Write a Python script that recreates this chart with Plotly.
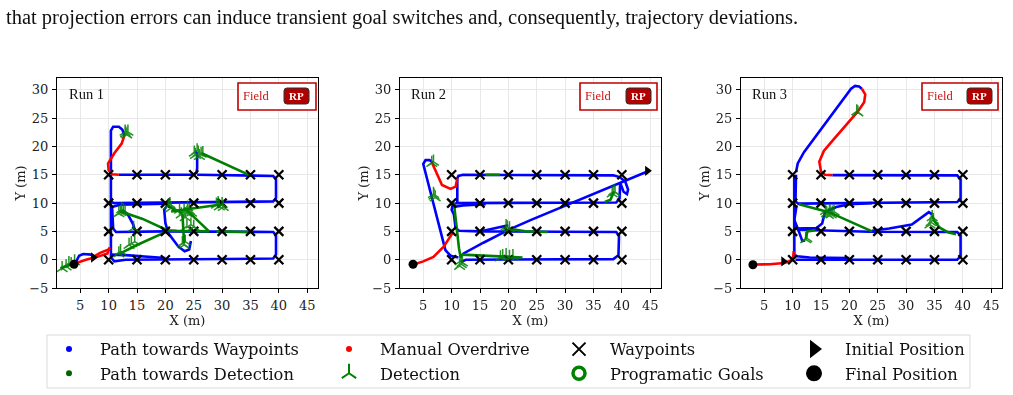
import plotly.graph_objects as go

W, H = 1013, 395

# ---------------- data ----------------
WP_X = [10, 15, 20, 25, 30, 35, 40]
WP_Y = [0, 5, 10, 15]
X_TICKS = [5, 10, 15, 20, 25, 30, 35, 40, 45]
Y_TICKS = [-5, 0, 5, 10, 15, 20, 25, 30]
RUN_LABELS = ["Run 1", "Run 2", "Run 3"]

# Run 1
R1_BLUE = [
    [(10.4, 15.5), (10.4, 22.8), (10.8, 23.5), (11.8, 23.5), (12.4, 23.0), (12.8, 22.0)],
    [(11.8, 15.0), (25.0, 15.0), (25.5, 15.4), (25.6, 16.2), (25.6, 18.8), (25.2, 19.1)],
    [(25.6, 15.0), (39.0, 14.8), (39.5, 14.2), (39.5, 10.9), (39.0, 10.3), (20.0, 10.1), (11.0, 10.0), (10.5, 10.2)],
    [(10.6, 9.3), (12.0, 9.7), (20.0, 9.9)],
    [(10.4, 15.0), (10.4, 0.5)],
    [(10.6, 9.5), (10.8, 5.5), (11.3, 4.9), (20.0, 5.0), (39.0, 4.9), (39.5, 4.3), (39.5, 0.9), (39.0, 0.2), (13.0, 0.0), (11.0, -0.3), (10.5, 0.3)],
    [(10.5, 0.9), (13.0, 0.8), (20.0, 0.3)],
    [(12.4, 8.8), (13.5, 7.8), (14.3, 6.3), (14.6, 5.3)],
    [(20.3, 9.6), (19.8, 8.8), (20.0, 6.5), (20.5, 4.7), (22.3, 2.3), (23.4, 1.5), (24.2, 1.8), (24.5, 3.3)],
    [(4.3, -0.3), (4.8, 0.7), (5.5, 1.0), (7.0, 0.9)],
]
R1_GREEN = [
    [(35.1, 14.8), (26.4, 18.8)],
    [(11.9, 8.6), (16.0, 7.2), (20.3, 5.2), (22.0, 5.1), (27.7, 5.0)],
    [(29.0, 5.0), (35.0, 4.9)],
    [(23.3, 9.2), (27.7, 5.0)],
    [(21.0, 8.5), (29.5, 9.7)],
    [(20.3, 5.0), (15.0, 2.6), (11.8, 1.0)],
    [(23.0, 8.2), (23.3, 2.9)],
    [(20.5, 9.5), (23.0, 8.2)],
    [(3.2, -0.9), (1.5, -1.5)],
]
R1_RED = [
    [(12.8, 22.0), (12.3, 20.5), (11.0, 18.8), (9.9, 17.0), (10.0, 15.8), (10.6, 15.1), (11.8, 15.0)],
    [(3.9, -0.7), (6.0, 0.0), (8.0, 0.5), (9.8, 1.1), (10.2, 2.2)],
    [(7.3, 0.5), (8.5, 1.2), (10.0, 1.8)],
]
R1_DET = [
    (13.0, 22.3), (13.4, 22.6), (13.2, 22.1), (12.9, 22.6),
    (25.3, 18.5), (25.8, 18.9), (26.3, 18.7), (25.6, 19.3), (26.0, 18.3), (25.1, 18.9), (26.6, 18.8),
    (12.1, 8.4), (12.6, 8.7), (12.9, 8.5), (12.3, 8.9), (11.8, 8.2),
    (20.5, 9.5), (21.0, 9.1), (20.8, 9.8),
    (22.8, 8.0), (23.3, 8.6), (23.8, 8.2), (24.2, 8.7), (23.5, 7.5), (22.5, 8.8), (24.6, 8.3), (23.9, 9.2),
    (24.5, 6.2), (25.0, 5.8), (23.8, 5.9),
    (29.0, 9.7), (29.5, 9.4), (30.0, 9.8), (29.3, 10.0), (30.2, 9.3),
    (23.0, 2.9), (23.5, 3.2), (23.3, 2.6),
    (14.0, 2.9), (14.6, 3.2), (13.6, 2.6),
    (11.8, 1.1), (12.1, 1.5), (14.4, 5.6),
    (2.5, -1.2), (3.4, -0.8), (1.8, -1.5), (4.0, -0.3), (3.0, -0.6),
]
R1_START = (7.3, 0.4)
R1_END = (3.9, -0.8)

# Run 2
R2_BLUE = [
    [(11.2, 0.4), (9.8, 0.7), (8.9, 1.7), (5.0, 16.9), (5.4, 17.6), (6.1, 17.6), (6.6, 17.2)],
    [(11.6, 0.6), (12.1, 1.1), (15.6, 3.0), (20.3, 5.4), (23.9, 7.0), (44.3, 15.5)],
    [(11.6, -0.4), (12.5, 0.0), (38.5, 0.1), (39.4, 0.8), (39.5, 4.2), (39.0, 4.9), (15.0, 5.0), (11.3, 5.1),
     (10.7, 5.6), (10.4, 8.0), (10.0, 8.8), (10.2, 9.8), (11.0, 10.0), (39.0, 10.1), (39.6, 10.8),
     (39.7, 13.6), (40.3, 12.0), (40.9, 11.6), (41.1, 12.4), (40.6, 13.8), (39.6, 14.6), (38.5, 14.9),
     (12.0, 15.0), (11.2, 14.8), (11.0, 14.4), (11.0, 10.2)],
    [(10.3, 9.3), (12.0, 9.6), (16.0, 9.8)],
    [(15.0, 5.0), (17.0, 5.4), (20.0, 6.1)],
]
R2_GREEN = [
    [(10.4, 10.0), (10.6, 8.0), (11.0, 5.0), (11.3, 2.0), (11.6, 0.3)],
    [(11.8, 0.9), (16.0, 0.7), (20.0, 0.5), (22.5, 0.4)],
    [(20.0, 5.5), (23.0, 5.0), (27.0, 4.9)],
    [(16.0, 15.0), (18.5, 15.0)],
    [(37.0, 10.2), (38.0, 10.6), (38.6, 12.0)],
]
R2_RED = [
    [(3.4, -0.8), (5.0, -0.3), (6.8, 0.5), (8.6, 2.3), (10.1, 4.6)],
    [(6.5, 17.2), (7.4, 15.3), (8.3, 13.2), (9.8, 12.5), (10.7, 12.9), (11.0, 14.4)],
]
R2_DET = [
    (6.5, 17.1), (6.8, 17.3), (6.9, 11.3), (7.1, 11.0), (6.8, 11.6),
    (11.5, -0.3), (11.7, -0.8), (11.4, -1.1), (11.9, -0.5),
    (19.8, 5.7), (20.2, 5.5), (19.6, 5.9),
    (19.0, 0.6), (19.6, 0.8), (20.2, 0.5), (20.8, 0.6), (18.6, 0.4),
    (38.6, 12.1), (38.3, 11.7), (38.8, 11.9),
]
R2_START = (44.5, 15.7)
R2_END = (3.2, -0.8)

# Run 3
R3_BLUE = [
    [(10.6, 15.5), (10.9, 17.0), (12.0, 19.0), (20.3, 30.2), (21.0, 30.7), (21.7, 30.6), (22.2, 30.2)],
    [(17.0, 14.95), (39.0, 14.9), (39.6, 14.2), (39.6, 10.7), (39.0, 10.2), (11.0, 9.9), (10.5, 10.3), (10.6, 15.0)],
    [(10.3, 15.0), (10.3, 0.8), (10.8, 0.6), (13.0, 0.4), (20.0, 0.3)],
    [(10.5, 0.0), (39.0, 0.0), (39.6, 0.6), (39.6, 4.3), (39.0, 4.9), (23.5, 4.95), (11.0, 5.3), (10.5, 5.6)],
    [(10.7, 9.6), (10.3, 7.0), (11.1, 5.0), (11.7, 3.3), (12.2, 3.4)],
    [(10.3, 5.5), (14.2, 5.6), (15.2, 6.4), (15.7, 8.4), (17.7, 9.3), (20.0, 9.8), (24.0, 10.0)],
    [(24.0, 5.1), (27.0, 5.5), (31.0, 6.2), (33.0, 7.7), (34.0, 8.4), (34.6, 8.0)],
]
R3_GREEN = [
    [(11.1, 9.8), (16.4, 8.4), (24.0, 5.0)],
    [(12.3, 3.6), (12.6, 5.0), (14.0, 5.2)],
    [(34.6, 7.8), (35.0, 6.8), (36.0, 5.6), (37.5, 4.8), (38.8, 4.5)],
]
R3_RED = [
    [(22.2, 30.2), (22.8, 29.2), (22.6, 27.8), (21.5, 26.2), (17.0, 21.0), (15.5, 19.2), (14.7, 17.3),
     (15.0, 15.6), (15.7, 15.0), (17.0, 14.95)],
    [(3.2, -0.85), (6.0, -0.8), (8.5, -0.6), (9.6, -0.2), (10.1, 0.5), (10.2, 1.5)],
]
R3_DET = [
    (21.3, 26.2), (21.5, 26.0),
    (16.0, 8.2), (16.5, 8.6), (17.0, 8.3), (16.3, 7.9), (16.8, 8.0), (15.8, 8.6), (17.3, 8.5), (16.6, 8.4),
    (12.3, 3.6), (12.5, 3.8),
    (34.6, 7.5), (34.4, 6.6), (34.8, 7.0), (34.2, 6.2),
]
R3_START = (8.4, -0.3)
R3_END = (3.0, -0.9)

RUNS = [
    (R1_BLUE, R1_GREEN, R1_RED, R1_DET, R1_START, R1_END),
    (R2_BLUE, R2_GREEN, R2_RED, R2_DET, R2_START, R2_END),
    (R3_BLUE, R3_GREEN, R3_RED, R3_DET, R3_START, R3_END),
]

LEGEND_COLS = [
    [("Path towards Waypoints", "blue"), ("Path towards Detection", "green")],
    [("Manual Overdrive", "red"), ("Detection", "det")],
    [("Waypoints", "wp"), ("Programatic Goals", "goal")],
    [("Initial Position", "start"), ("Final Position", "end")],
]

# ---------------- style ----------------
BLUE, GREEN, RED = "#0000ff", "#008000", "#ff0000"
SERIF = "DejaVu Serif"
TIMES = "Liberation Serif"

PANEL_X = [(57, 318), (400, 661), (741, 1002)]
PANEL_Y = (78, 288)
XR = [0.9, 46.9]
YR = [-5, 32.1]


def px(x):
    return x / W


def py(y):
    return 1 - y / H


def join(segs):
    xs, ys = [], []
    for s in segs:
        xs += [p[0] for p in s] + [None]
        ys += [p[1] for p in s] + [None]
    return xs, ys


fig = go.Figure()

for i, (blue, green, red, det, start, end) in enumerate(RUNS):
    ax = "" if i == 0 else str(i + 1)
    xa, ya = "x" + ax, "y" + ax
    wx = [x for y in WP_Y for x in WP_X]
    wy = [y for y in WP_Y for x in WP_X]
    for segs, col in ((blue, BLUE), (green, GREEN), (red, RED)):
        xs, ys = join(segs)
        fig.add_trace(go.Scatter(x=xs, y=ys, mode="lines", xaxis=xa, yaxis=ya,
                                 line=dict(color=col, width=2.6), showlegend=False,
                                 hoverinfo="skip"))
    fig.add_trace(go.Scatter(x=wx, y=wy, mode="markers", xaxis=xa, yaxis=ya, showlegend=False,
                             marker=dict(symbol="x-thin", size=9, line=dict(color="black", width=2.3))))
    fig.add_trace(go.Scatter(x=[p[0] for p in det], y=[p[1] for p in det], mode="markers",
                             xaxis=xa, yaxis=ya, showlegend=False, opacity=0.85,
                             marker=dict(symbol="y-up", size=9, line=dict(color=GREEN, width=1.5))))
    fig.add_trace(go.Scatter(x=[start[0]], y=[start[1]], mode="markers", xaxis=xa, yaxis=ya,
                             showlegend=False, marker=dict(symbol="triangle-right", size=9, color="black")))
    fig.add_trace(go.Scatter(x=[end[0]], y=[end[1]], mode="markers", xaxis=xa, yaxis=ya,
                             showlegend=False, marker=dict(symbol="circle", size=9, color="black")))

LEG_MARKERS = {
    "blue": dict(symbol="circle", size=6, color=BLUE),
    "green": dict(symbol="circle", size=6, color="#006400"),
    "red": dict(symbol="circle", size=6, color=RED),
    "det": dict(symbol="y-up", size=12, color=GREEN, line=dict(color=GREEN, width=2)),
    "wp": dict(symbol="x-thin", size=13, color="black", line=dict(color="black", width=2)),
    "goal": dict(symbol="circle-open", size=12, color=GREEN, line=dict(color=GREEN, width=3.5)),
    "start": dict(symbol="triangle-right", size=16, color="black"),
    "end": dict(symbol="circle", size=16, color="black"),
}
for c, col in enumerate(LEGEND_COLS):
    lname = "legend" if c == 0 else "legend%d" % (c + 1)
    for name, key in col:
        fig.add_trace(go.Scatter(x=[None], y=[None], mode="markers", name=name,
                                 marker=LEG_MARKERS[key], legend=lname))

axis_common = dict(showline=True, mirror=True, linecolor="black", linewidth=1,
                   ticks="outside", ticklen=4, tickcolor="black", showgrid=True,
                   gridcolor="#e8e8e8", gridwidth=1, zeroline=False,
                   tickfont=dict(family=SERIF, size=13, color="#222"))

layout = dict(width=W, height=H, margin=dict(l=0, r=0, t=0, b=0, autoexpand=False),
              plot_bgcolor="white", paper_bgcolor="white", showlegend=True)
for i, (x0, x1) in enumerate(PANEL_X):
    ax = "" if i == 0 else str(i + 1)
    layout["xaxis" + ax] = dict(axis_common, domain=[px(x0), px(x1)], range=XR,
                                tickvals=X_TICKS, anchor="y" + ax, ticklabelstandoff=1,
                                title=dict(text="X (m)", standoff=4,
                                           font=dict(family=SERIF, size=13, color="#222")))
    layout["yaxis" + ax] = dict(axis_common, domain=[py(PANEL_Y[1]), py(PANEL_Y[0])], range=YR,
                                tickvals=Y_TICKS, anchor="x" + ax, ticklabelstandoff=1,
                                title=dict(text="Y (m)", standoff=0,
                                           font=dict(family=SERIF, size=13, color="#222")))

LEG_X = [38, 318, 548, 783]
for c in range(4):
    lname = "legend" if c == 0 else "legend%d" % (c + 1)
    layout[lname] = dict(x=px(LEG_X[c]), y=py(332), xanchor="left", yanchor="top",
                         orientation="v", bgcolor="rgba(0,0,0,0)", borderwidth=0,
                         itemwidth=52, font=dict(family=SERIF, size=16.3, color="#111"),
                         tracegroupgap=0)
fig.update_layout(**layout)

shapes = []
annotations = []
shapes.append(dict(type="rect", xref="paper", yref="paper", x0=px(47), x1=px(970), y0=py(388), y1=py(335),
                   line=dict(color="#d9d9d9", width=1), fillcolor="rgba(0,0,0,0)", layer="below"))

FIELD_BOX = [(238, 316), (580, 657), (922, 998)]
RP_BOX = [(284, 309), (626, 651), (967, 992)]
RUN_X = [68, 410, 751]
for i in range(3):
    fx0, fx1 = FIELD_BOX[i]
    shapes.append(dict(type="rect", xref="paper", yref="paper", x0=px(fx0), x1=px(fx1),
                       y0=py(110), y1=py(83), line=dict(color="#c00000", width=1.6),
                       fillcolor="white"))
    rx0, rx1 = RP_BOX[i]
    r = 3
    y0, y1 = 88, 104
    path = ("M {a},{b} L {c},{b} Q {d},{b} {d},{e} L {d},{f} Q {d},{g} {c},{g} L {a},{g} "
            "Q {h},{g} {h},{f} L {h},{e} Q {h},{b} {a},{b} Z").format(
        a=px(rx0 + r), b=py(y0), c=px(rx1 - r), d=px(rx1), e=py(y0 + r), f=py(y1 - r),
        g=py(y1), h=px(rx0))
    shapes.append(dict(type="path", xref="paper", yref="paper", path=path,
                       fillcolor="#b00000", line=dict(color="#333", width=1)))
    annotations.append(dict(text="Field", xref="paper", yref="paper", x=px(fx0 + 18), y=py(96.5),
                            showarrow=False, font=dict(family=TIMES, size=12.5, color="#d01010"),
                            xanchor="center", yanchor="middle"))
    annotations.append(dict(text="<b>RP</b>", xref="paper", yref="paper", x=px((rx0 + rx1) / 2), y=py(96),
                            showarrow=False, font=dict(family=TIMES, size=11, color="white"),
                            xanchor="center", yanchor="middle"))
    annotations.append(dict(text=RUN_LABELS[i], xref="paper", yref="paper", x=px(RUN_X[i] - 1), y=py(94),
                            showarrow=False, font=dict(family=TIMES, size=14.5, color="#111"),
                            xanchor="left", yanchor="middle"))

annotations.append(dict(text="that projection errors can induce transient goal switches and, consequently, trajectory deviations.",
                        xref="paper", yref="paper", x=px(4), y=py(17), showarrow=False,
                        xanchor="left", yanchor="middle",
                        font=dict(family=TIMES, size=20.5, color="#111")))

fig.update_layout(shapes=shapes, annotations=annotations)
fig.write_html("out.html")
